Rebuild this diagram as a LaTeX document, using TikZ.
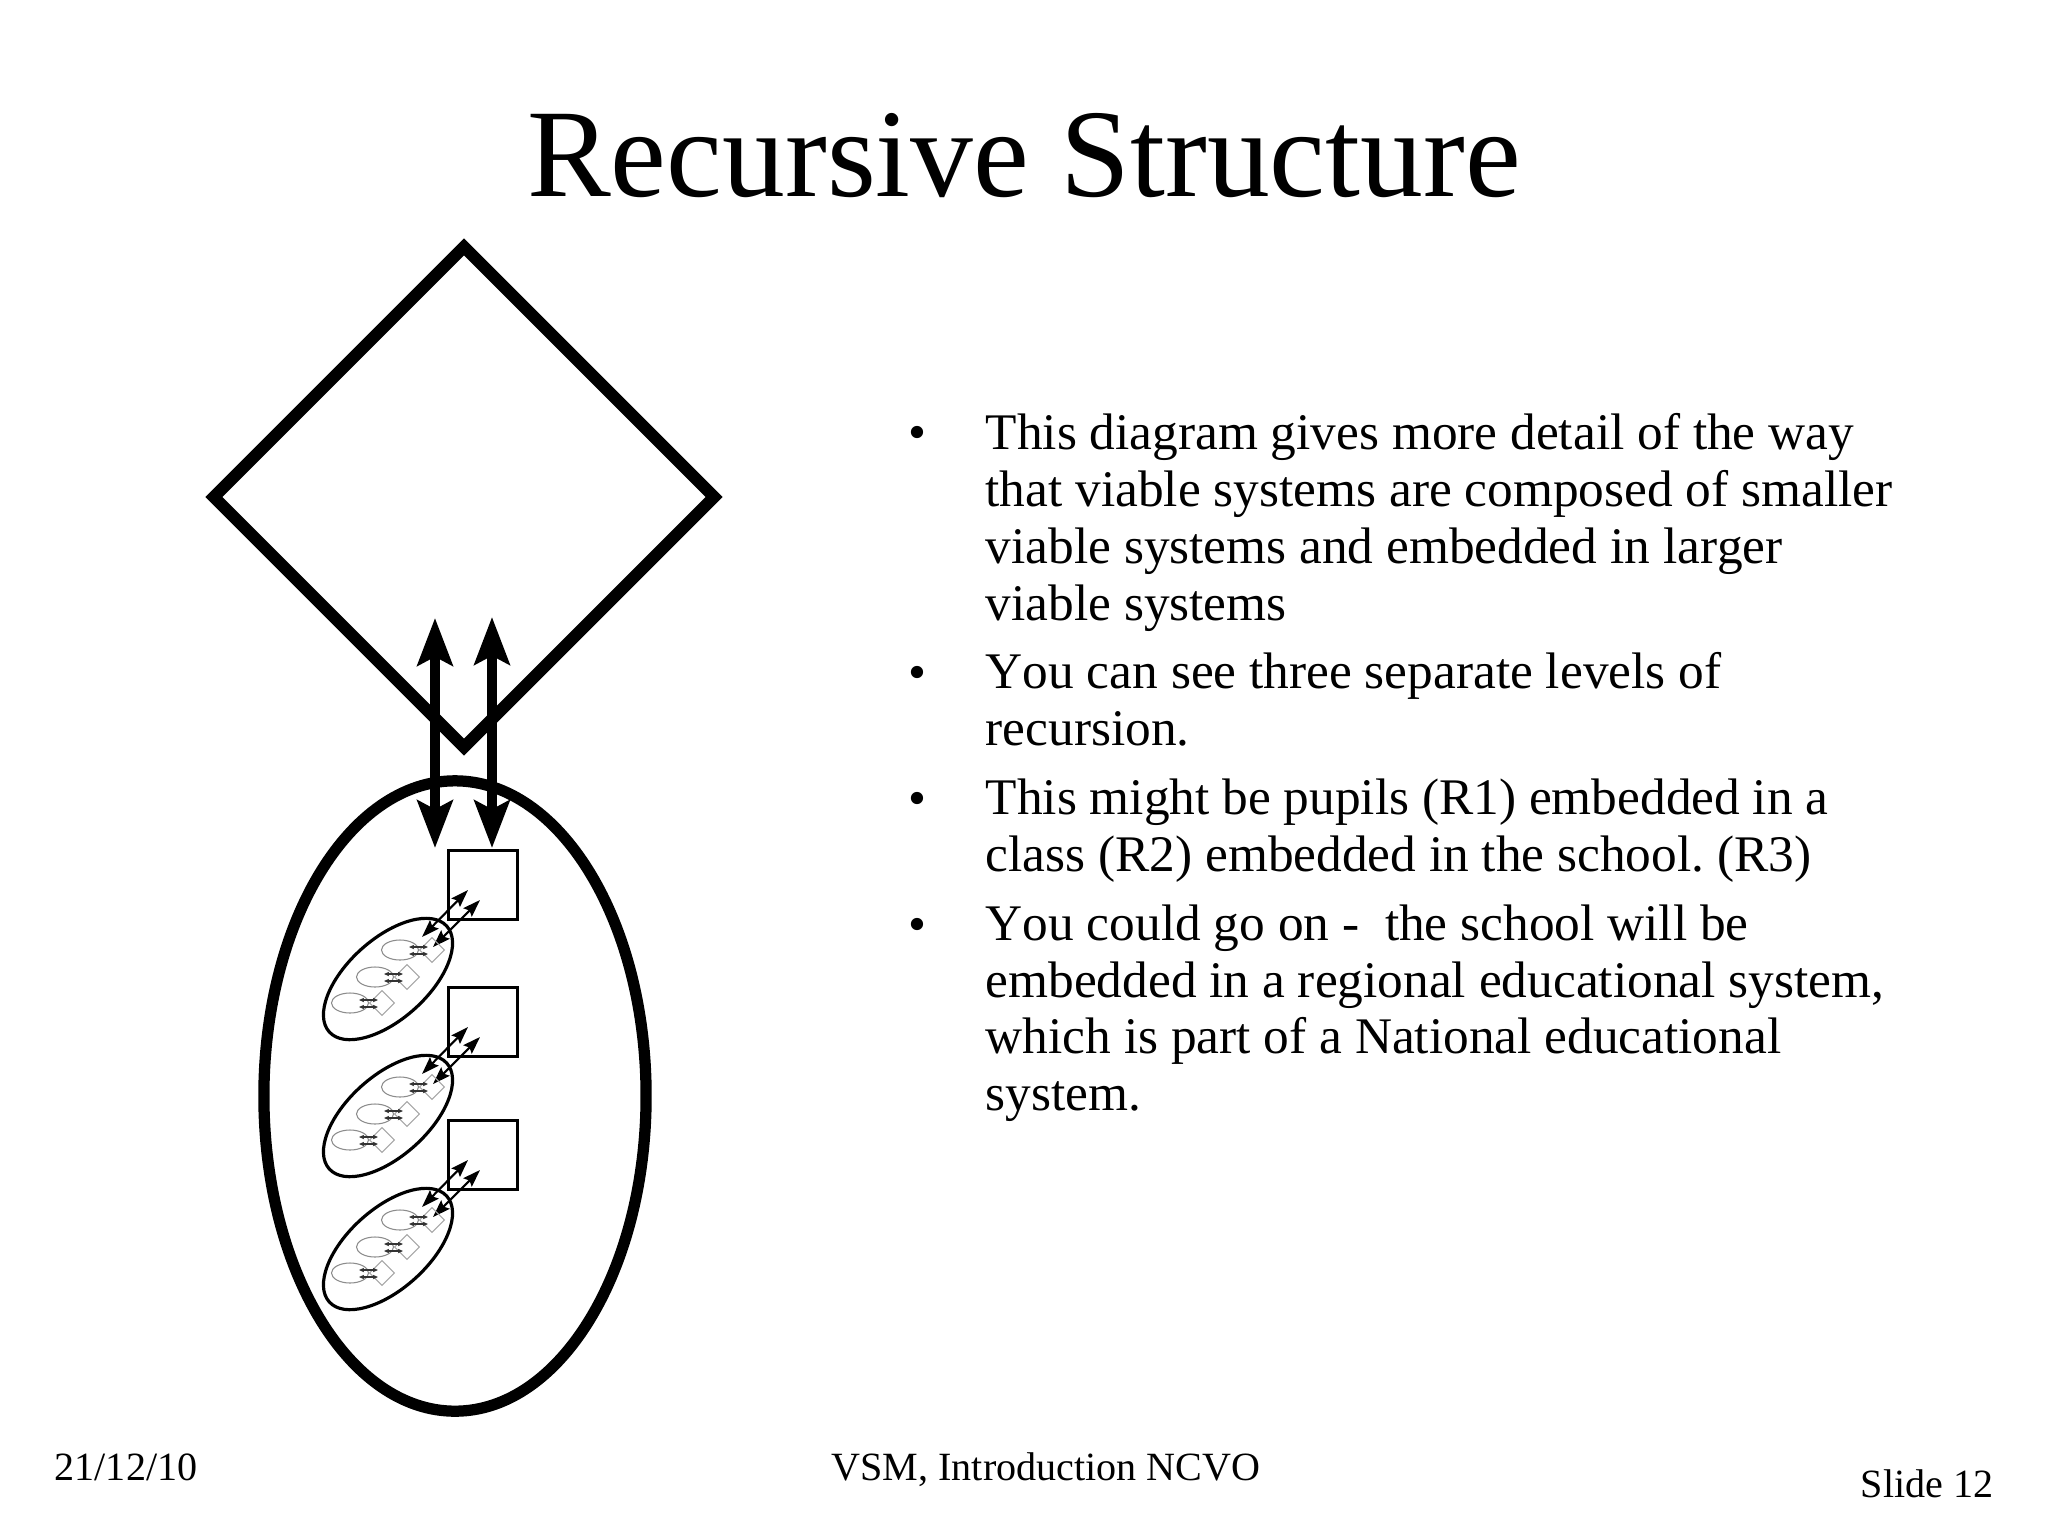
\documentclass[tikz,border=0pt]{standalone}
\usepackage{fontspec}
\setmainfont{Liberation Serif}
\newfontfamily\bodyfont[Kerning=Off]{Liberation Serif}
\usetikzlibrary{shapes.geometric, arrows.meta, positioning}
\tikzset{
  bigarrow/.style={line width=2.6pt, {Stealth[length=13.5pt,width=10pt,inset=2.5pt]}-{Stealth[length=13.5pt,width=10pt,inset=2.5pt]}},
  smallarrow/.style={line width=0.6pt, {Stealth[length=5pt,width=3.4pt,inset=0.8pt]}-{Stealth[length=5pt,width=3.4pt,inset=0.8pt]}},
  tinyarrow/.style={line width=0.35pt, black!80, {Stealth[length=1.4pt,width=1.2pt,inset=0.2pt]}-{Stealth[length=1.4pt,width=1.2pt,inset=0.2pt]}},
  bodytext/.style={font=\bodyfont\frenchspacing\fontsize{14.6}{16.16}\selectfont, align=left, inner sep=0pt, anchor=north west},
  bulletmark/.style={font=\fontsize{14.6}{16.16}\selectfont, inner sep=0pt, anchor=base},
  foottext/.style={font=\fontsize{11.4}{13}\selectfont, inner sep=0pt, anchor=base}
}
\begin{document}
\begin{tikzpicture}[x=0.01cm, y=-0.01cm]
  \useasboundingbox (0,0) rectangle (2048,1536);
  \node[font=\fontsize{35.7}{40}\selectfont, inner sep=0pt, anchor=base] (title) at (1024,196) {Recursive Structure};

  % top level
  \node[diamond, draw, line width=3.4pt, aspect=1, inner sep=0pt, minimum width=5.05cm, minimum height=5.05cm] (system) at (464,497) {};
  \node[ellipse, draw, line width=3.2pt, inner sep=0pt, minimum width=3.82cm, minimum height=6.3cm] (school) at (455,1096) {};
  \coordinate (upA) at (435,618);
  \coordinate (upB) at (492,617);
  \coordinate (downA) at (435,848);
  \coordinate (downB) at (492,848);
  \draw[bigarrow] (upA) -- (downA);
  \draw[bigarrow] (upB) -- (downB);

  % three classes
  \foreach \i/\dy in {1/0, 2/137, 3/270} {
    \node[draw, line width=1pt, inner sep=0pt, minimum size=0.69cm] (class\i) at (483,{885+\dy}) {};
    \node[ellipse, draw, line width=0.9pt, inner sep=0pt, minimum width=1.58cm, minimum height=0.8cm, rotate=42] (pupils\i) at (388,{979+\dy}) {};
    \coordinate (pa\i) at (422,{937+\dy});
    \coordinate (qa\i) at (468,{890+\dy});
    \coordinate (pb\i) at (433,{947+\dy});
    \coordinate (qb\i) at (480,{900+\dy});
    \draw[smallarrow] (pa\i) -- (qa\i);
    \draw[smallarrow] (pb\i) -- (qb\i);
    % pupils inside each class
    \foreach \j/\ex/\ey in {1/400/950, 2/375/977, 3/350/1003} {
      \node[ellipse, draw=black!45, line width=0.3pt, inner sep=0pt, minimum width=0.37cm, minimum height=0.2cm] (cell\i\j) at (\ex,{\ey+\dy}) {};
      \node[diamond, draw=black!35, line width=0.3pt, inner sep=0pt, minimum size=0.25cm] (unit\i\j) at ({\ex+32},{\ey+\dy}) {};
      \draw[tinyarrow] ({\ex+9},{\ey-3+\dy}) -- ({\ex+28},{\ey-3+\dy});
      \draw[tinyarrow] ({\ex+9},{\ey+4+\dy}) -- ({\ex+28},{\ey+4+\dy});
    }
  }

  % bullets
  \node[bulletmark] (bulletA) at (917,449) {•};
  \node[bulletmark] (bulletB) at (917,689) {•};
  \node[bulletmark] (bulletC) at (917,815) {•};
  \node[bulletmark] (bulletD) at (917,941) {•};
  \node[bodytext] (textA) at (985,413) {This diagram gives more detail of the way\\that viable systems are composed of smaller\\viable systems and embedded in larger\\viable systems};
  \node[bodytext] (textB) at (985,652) {You can see three separate levels of\\recursion.};
  \node[bodytext] (textC) at (985,778) {This might be pupils (R1) embedded in a\\class (R2) embedded in the school. (R3)};
  \node[bodytext] (textD) at (985,904) {You could go on -~~the school will be\\embedded in a regional educational system,\\which is part of a National educational\\system.};

  % footer
  \node[foottext] (date) at (126,1480) {21/12/10};
  \node[foottext] (event) at (1046,1480) {VSM, Introduction NCVO};
  \node[foottext, anchor=base east] (slide) at (1994,1497) {Slide 12};
\end{tikzpicture}
\end{document}
